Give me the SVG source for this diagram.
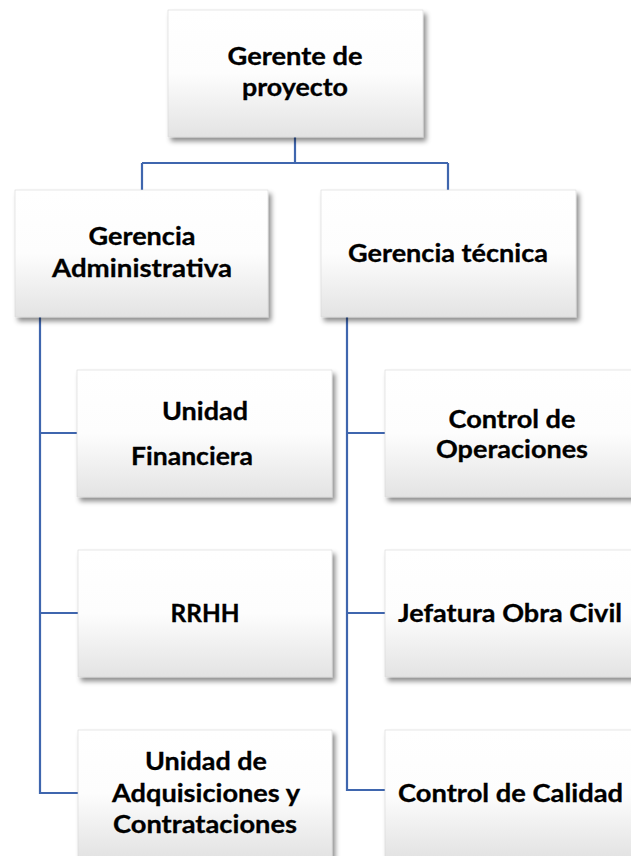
<svg xmlns="http://www.w3.org/2000/svg" width="631" height="856" viewBox="0 0 631 856">
<defs>
<linearGradient id="boxfill" x1="0" y1="0" x2="0" y2="1">
<stop offset="0" stop-color="#ffffff"/>
<stop offset="0.5" stop-color="#fdfdfd"/>
<stop offset="1" stop-color="#e3e3e3"/>
</linearGradient>
<filter id="shadow" x="-10%" y="-10%" width="125%" height="130%">
<feDropShadow dx="3" dy="4" stdDeviation="2.5" flood-color="#000" flood-opacity="0.45"/>
</filter>
</defs>
<style>
.box{fill:url(#boxfill);stroke:#d8d8d8;stroke-width:0.6;filter:url(#shadow);}
.lbl{font-family:"Lato","Open Sans","Liberation Sans",sans-serif;font-weight:bold;font-size:24px;fill:#000;text-anchor:middle;stroke:#000;stroke-width:0.3;}
.conn{fill:none;stroke:#3f66ae;stroke-width:2.2;}
</style>
<rect width="631" height="856" fill="#ffffff"/>
<g id="connectors">
<path class="conn" d="M295 137 V163 M142 163 H448 M142 163 V190 M448 163 V190"/>
<path class="conn" d="M40 317 V793 H78 M40 433 H78 M40 613 H78"/>
<path class="conn" d="M347 317 V790 H385 M347 433 H385 M347 613 H385"/>
</g>
<g id="gerente">
<rect class="box" x="168" y="10" width="255" height="127"/>
<text class="lbl" x="295" y="65" textLength="135" lengthAdjust="spacingAndGlyphs">Gerente de</text>
<text class="lbl" x="295" y="96" textLength="106" lengthAdjust="spacingAndGlyphs">proyecto</text>
</g>
<g id="gerencia-admin">
<rect class="box" x="15" y="190" width="253" height="127"/>
<text class="lbl" x="142" y="245" textLength="107" lengthAdjust="spacingAndGlyphs">Gerencia</text>
<text class="lbl" x="142" y="277" textLength="180" lengthAdjust="spacingAndGlyphs">Administrativa</text>
</g>
<g id="gerencia-tecnica">
<rect class="box" x="321" y="190" width="255" height="127"/>
<text class="lbl" x="448" y="262" textLength="200" lengthAdjust="spacingAndGlyphs">Gerencia técnica</text>
</g>
<g id="unidad-financiera">
<rect class="box" x="77" y="370" width="255" height="127"/>
<text class="lbl" x="205" y="420" textLength="86" lengthAdjust="spacingAndGlyphs">Unidad</text>
<text class="lbl" x="192" y="465" textLength="122" lengthAdjust="spacingAndGlyphs">Financiera</text>
</g>
<g id="rrhh">
<rect class="box" x="78" y="550" width="254" height="127"/>
<text class="lbl" x="205" y="622" textLength="69" lengthAdjust="spacingAndGlyphs">RRHH</text>
</g>
<g id="unidad-adquisiciones">
<rect class="box" x="78" y="730" width="254" height="127"/>
<text class="lbl" x="206" y="770" textLength="122" lengthAdjust="spacingAndGlyphs">Unidad de</text>
<text class="lbl" x="206" y="802" textLength="188" lengthAdjust="spacingAndGlyphs">Adquisiciones y</text>
<text class="lbl" x="205" y="833" textLength="184" lengthAdjust="spacingAndGlyphs">Contrataciones</text>
</g>
<g id="control-operaciones">
<rect class="box" x="385" y="370" width="255" height="127"/>
<text class="lbl" x="512" y="428" textLength="127" lengthAdjust="spacingAndGlyphs">Control de</text>
<text class="lbl" x="512" y="458" textLength="152" lengthAdjust="spacingAndGlyphs">Operaciones</text>
</g>
<g id="jefatura-obra-civil">
<rect class="box" x="385" y="550" width="255" height="127"/>
<text class="lbl" x="510" y="622" textLength="224" lengthAdjust="spacingAndGlyphs">Jefatura Obra Civil</text>
</g>
<g id="control-calidad">
<rect class="box" x="385" y="730" width="255" height="127"/>
<text class="lbl" x="510.5" y="802" textLength="225" lengthAdjust="spacingAndGlyphs">Control de Calidad</text>
</g>
</svg>
